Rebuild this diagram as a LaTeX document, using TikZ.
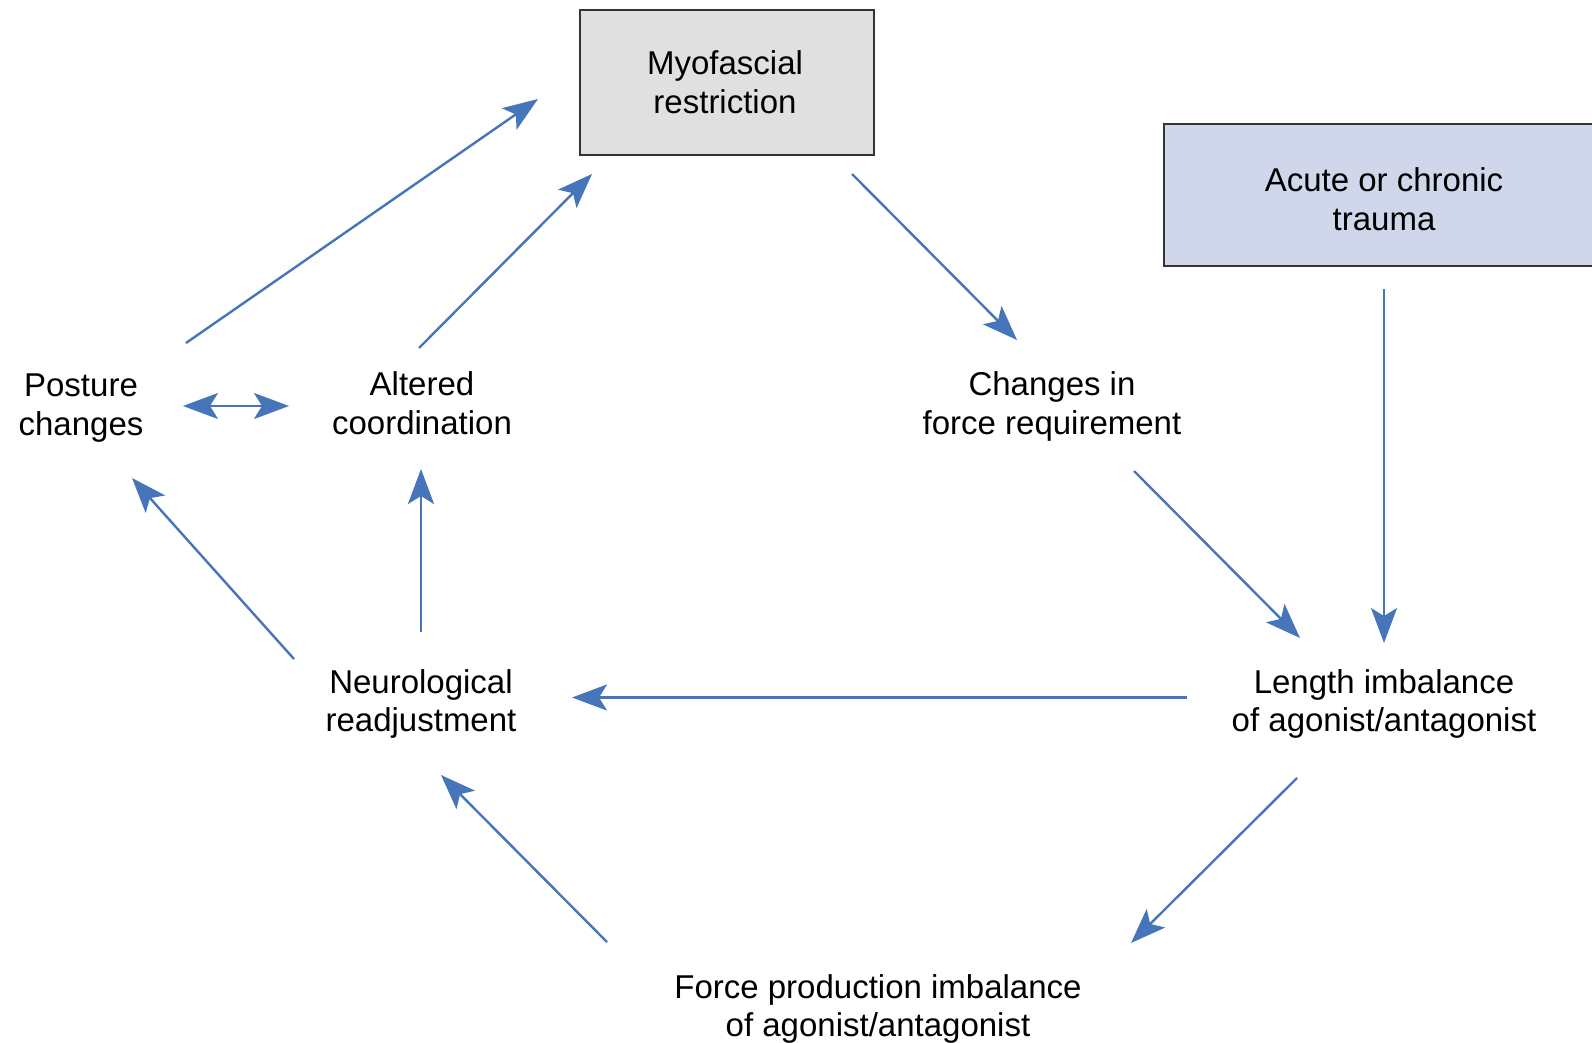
\documentclass[tikz,border=0pt]{standalone}
\usepackage{fontspec}
\setmainfont{Liberation Sans}
\usetikzlibrary{arrows.meta}
\definecolor{arrowblue}{HTML}{4676B9}
\definecolor{boxgray}{HTML}{E0E0E0}
\definecolor{boxblue}{HTML}{D0D7EA}
\begin{document}
\begin{tikzpicture}[x=1pt,y=-1pt,
  lbl/.style={align=center,font=\fontsize{33}{38.6}\selectfont,inner sep=0pt},
  tip/.style={Stealth[length=35pt,width=26pt,inset=8pt]},
  conn/.style={draw=arrowblue,line width=2.4pt,-{Stealth[length=35pt,width=26pt,inset=8pt]}},
  conn2/.style={draw=arrowblue,line width=2.4pt,{Stealth[length=35pt,width=26pt,inset=8pt]}-{Stealth[length=35pt,width=26pt,inset=8pt]}},
  boxframe/.style={draw=black!80,line width=1.6pt}]
\useasboundingbox (0,0) rectangle (1592,1043);
\fill[white] (0,0) rectangle (1592,1043);
% boxes
\draw[boxframe,fill=boxgray] (580,10) rectangle (874,155);
\draw[boxframe,fill=boxblue] (1164,124) rectangle (1600,266);
% labels
\node[lbl] (myo) at (725,82) {Myofascial\\restriction};
\node[lbl] (acute) at (1384,199) {Acute or chronic\\trauma};
\node[lbl] (post) at (81,408) {Posture\\changes};
\node[lbl] (alt) at (422,403) {Altered\\coordination};
\node[lbl] (chg) at (1052,406.5) {Changes in\\force requirement};
\node[lbl] (neu) at (421,704) {Neurological\\readjustment};
\node[lbl] (len) at (1384,704) {Length imbalance\\of agonist/antagonist};
\node[lbl] (frc) at (878,1009) {Force production imbalance\\of agonist/antagonist};
% connector end points
\coordinate (p1s) at (186,343); \coordinate (p1e) at (538,99);
\coordinate (p2s) at (419,348); \coordinate (p2e) at (592,174);
\coordinate (p3s) at (852,174); \coordinate (p3e) at (1017,340);
\coordinate (p4s) at (1134,471); \coordinate (p4e) at (1300,638);
\coordinate (p5s) at (1384,289); \coordinate (p5e) at (1384,643);
\coordinate (p6s) at (1187,697.5); \coordinate (p6e) at (572,697.5);
\coordinate (p7s) at (1297,778); \coordinate (p7e) at (1131,943);
\coordinate (p8s) at (607,942); \coordinate (p8e) at (441,775);
\coordinate (p9s) at (421,632); \coordinate (p9e) at (421,469);
\coordinate (p10s) at (294,659); \coordinate (p10e) at (132,478);
\coordinate (p11s) at (183,406); \coordinate (p11e) at (289,406);
% connectors
\draw[conn] (p1s) -- (p1e);
\draw[conn] (p2s) -- (p2e);
\draw[conn] (p3s) -- (p3e);
\draw[conn] (p4s) -- (p4e);
\draw[conn] (p5s) -- (p5e);
\draw[conn] (p6s) -- (p6e);
\draw[conn] (p7s) -- (p7e);
\draw[conn] (p8s) -- (p8e);
\draw[conn] (p9s) -- (p9e);
\draw[conn] (p10s) -- (p10e);
\draw[conn2] (p11s) -- (p11e);
\end{tikzpicture}
\end{document}
